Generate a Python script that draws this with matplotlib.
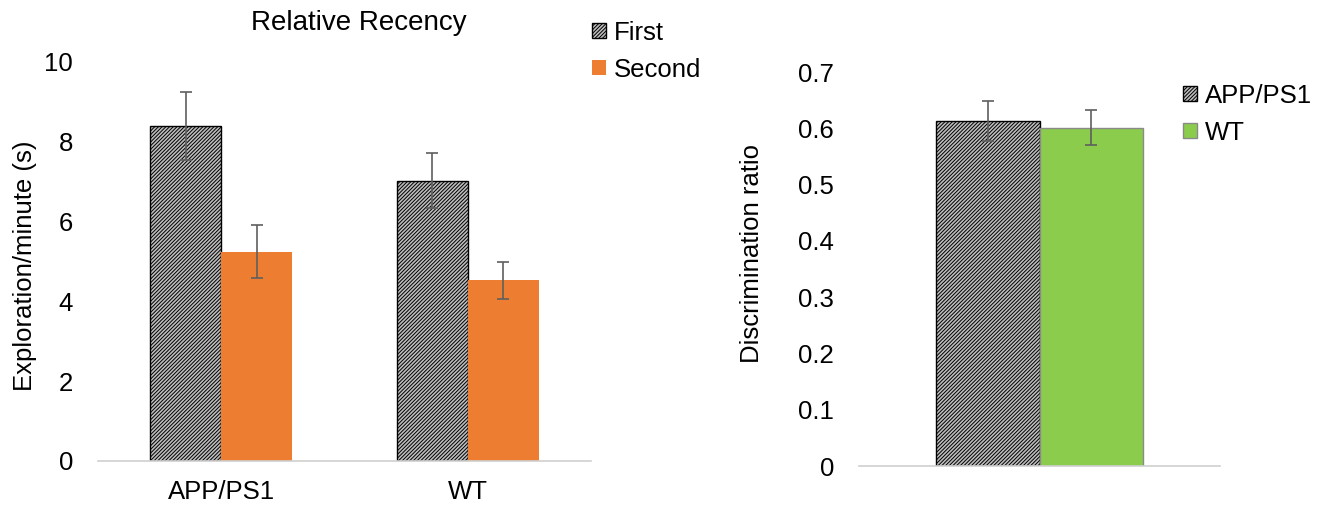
import numpy as np
import matplotlib
matplotlib.use("Agg")
import matplotlib.pyplot as plt

plt.rcParams['font.family'] = ['Liberation Sans', 'DejaVu Sans']
plt.rcParams['hatch.linewidth'] = 0.7

# left panel: relative recency exploration
groups = ['APP/PS1', 'WT']
first_vals = [8.40, 7.02]
first_err = [0.85, 0.69]
second_vals = [5.25, 4.53]
second_err = [0.66, 0.46]

# right panel: discrimination ratio
ratio_labels = ['APP/PS1', 'WT']
ratio_vals = [0.613, 0.601]
ratio_err = [0.035, 0.031]

W, H = 1333, 507
fig = plt.figure(figsize=(W / 100, H / 100), dpi=100)

orange = '#ED7D31'
green = '#8CCC4C'
hatch_face = '#bdbdbd'
err_col = '#5f5f5f'
tick_fs = 18.5
dense = '/' * 9

def px_axes(x0, x1, ytop, ybot):
    return fig.add_axes([x0 / W, (H - ybot) / H, (x1 - x0) / W, (ybot - ytop) / H])

# ---- left chart ----
ax1 = px_axes(98, 591, 62, 461)
x = np.arange(len(groups))
bw = 0.288
ax1.bar(x - bw / 2, first_vals, bw, facecolor=hatch_face, edgecolor='black',
        hatch=dense, linewidth=1.0, label='First', zorder=2)
ax1.bar(x + bw / 2, second_vals, bw, color=orange, linewidth=0, label='Second', zorder=2)
ax1.errorbar(x - bw / 2, first_vals, yerr=first_err, fmt='none', ecolor=err_col,
             elinewidth=1.2, capsize=4, capthick=1.2, zorder=3)
ax1.errorbar(x + bw / 2, second_vals, yerr=second_err, fmt='none', ecolor=err_col,
             elinewidth=1.2, capsize=4, capthick=1.2, zorder=3)
ax1.set_xlim(-0.5, 1.5)
ax1.set_ylim(0, 10)
ax1.set_yticks(range(0, 11, 2))
ax1.set_xticks(x)
ax1.set_xticklabels(groups)
for s in ['top', 'right', 'left']:
    ax1.spines[s].set_visible(False)
ax1.spines['bottom'].set_color('#d0d0d0')
ax1.spines['bottom'].set_linewidth(1.2)
ax1.tick_params(axis='y', length=0, pad=18, labelsize=tick_fs)
ax1.tick_params(axis='x', length=0, pad=14, labelsize=tick_fs)
ax1.set_ylabel('Exploration/minute (s)', fontsize=tick_fs)
ax1.yaxis.set_label_coords(-0.124, 0.49)
fig.text(359 / W, 1 - 23 / H, 'Relative Recency', fontsize=20, ha='center', va='center')
ax1.legend(loc='upper left', bbox_to_anchor=(579 / W, 1 - 8 / H), bbox_transform=fig.transFigure,
           frameon=False, fontsize=tick_fs, handlelength=0.55, handleheight=0.55,
           handletextpad=0.3, labelspacing=0.5, borderpad=0)

# ---- right chart ----
ax2 = px_axes(859, 1220, 72, 466)
bw2 = 0.287
ax2.bar([-bw2 / 2], [ratio_vals[0]], bw2, facecolor=hatch_face, edgecolor='black',
        hatch=dense, linewidth=1.0, label=ratio_labels[0], zorder=2)
ax2.bar([bw2 / 2], [ratio_vals[1]], bw2, color=green, edgecolor='#8a8a8a',
        linewidth=1.0, label=ratio_labels[1], zorder=2)
ax2.errorbar([-bw2 / 2, bw2 / 2], ratio_vals, yerr=ratio_err, fmt='none', ecolor=err_col,
             elinewidth=1.2, capsize=4, capthick=1.2, zorder=3)
ax2.set_xlim(-0.5, 0.5)
ax2.set_ylim(0, 0.7)
ax2.set_yticks(np.arange(0, 0.71, 0.1))
ax2.set_yticklabels(['0'] + ['%.1f' % v for v in np.arange(0.1, 0.71, 0.1)])
ax2.set_xticks([])
for s in ['top', 'right', 'left']:
    ax2.spines[s].set_visible(False)
ax2.spines['bottom'].set_color('#d0d0d0')
ax2.spines['bottom'].set_linewidth(1.2)
ax2.tick_params(axis='y', length=0, pad=18, labelsize=tick_fs)
ax2.set_ylabel('Discrimination ratio', fontsize=tick_fs)
ax2.yaxis.set_label_coords(-0.264, 0.54)
ax2.legend(loc='upper left', bbox_to_anchor=(1170 / W, 1 - 71 / H), bbox_transform=fig.transFigure,
           frameon=False, fontsize=tick_fs, handlelength=0.55, handleheight=0.55,
           handletextpad=0.3, labelspacing=0.5, borderpad=0)

fig.savefig('out.png', dpi=100)
